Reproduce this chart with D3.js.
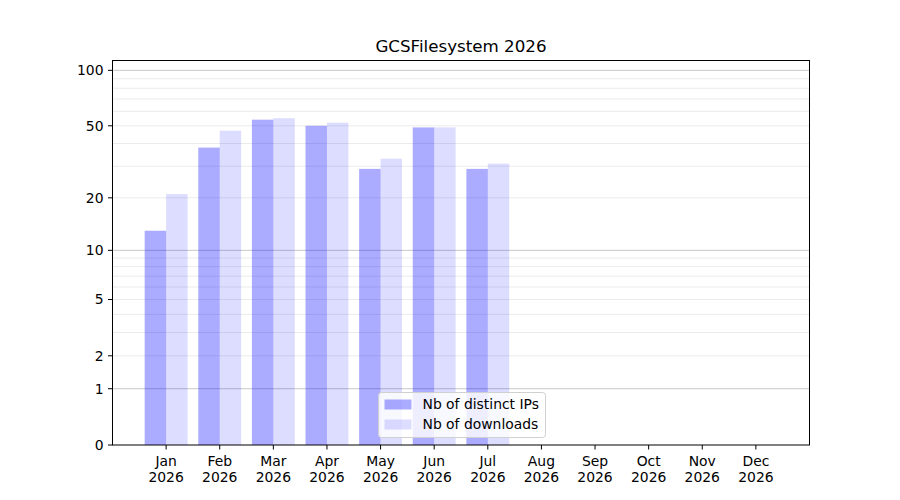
<!DOCTYPE html>
<html>
<head>
<meta charset="utf-8">
<script src="https://cdn.jsdelivr.net/npm/d3@7"></script>
<style>
  body { margin: 0; background: #fff; }
  text { font-family: "DejaVu Sans", sans-serif; }
</style>
</head>
<body>
<svg width="900" height="500"></svg>
<script>
const width = 900;
const height = 500;

// 数据
const months = ["Jan", "Feb", "Mar", "Apr", "May", "Jun", "Jul", "Aug", "Sep", "Oct", "Nov", "Dec"];
const year = "2026";
const distinctIPs = [13, 38, 54, 50, 29, 49, 29];
const downloads = [21, 47, 55, 52, 33, 49, 31];
const yTicks = [0, 1, 2, 5, 10, 20, 50, 100];
const yMinor = [2, 3, 4, 5, 6, 7, 8, 9, 20, 30, 40, 50, 60, 70, 80, 90];
const yMajor = [1, 10, 100];

const margin = {left: 112.5, right: 90, top: 60.5, bottom: 55};
const plotW = 697;
const plotH = 384.5;
const fs = 13.9;

const svg = d3.select("svg");

// x 轴：月份索引，两边各留一格
const x = d3.scaleLinear().domain([-1, 12]).range([margin.left, margin.left + plotW]);

// y 轴：log10(1+v) 变换（类似 symlog）
const t = v => Math.log10(1 + v);
const yMax = 113;
const yT = d3.scaleLinear().domain([0, t(yMax)]).range([margin.top + plotH, margin.top]);
const y = v => yT(t(v));

const barW = 0.4;

// 网格线
const grid = svg.append("g");
grid.selectAll("line.minor")
    .data(yMinor)
    .enter().append("line")
    .attr("x1", margin.left).attr("x2", margin.left + plotW)
    .attr("y1", d => y(d)).attr("y2", d => y(d))
    .attr("stroke", "#ebebeb").attr("stroke-width", 1);
grid.selectAll("line.major")
    .data(yMajor)
    .enter().append("line")
    .attr("x1", margin.left).attr("x2", margin.left + plotW)
    .attr("y1", d => y(d)).attr("y2", d => y(d))
    .attr("stroke", "#c8c8c8").attr("stroke-width", 1);

// 柱子
const bars = svg.append("g");
bars.selectAll("rect.ips")
    .data(distinctIPs)
    .enter().append("rect")
    .attr("x", (d, i) => x(i - barW))
    .attr("width", (d, i) => x(i) - x(i - barW))
    .attr("y", d => y(d))
    .attr("height", d => y(0) - y(d))
    .attr("fill", "blue").attr("fill-opacity", 0.33);
bars.selectAll("rect.dl")
    .data(downloads)
    .enter().append("rect")
    .attr("x", (d, i) => x(i))
    .attr("width", (d, i) => x(i + barW) - x(i))
    .attr("y", d => y(d))
    .attr("height", d => y(0) - y(d))
    .attr("fill", "blue").attr("fill-opacity", 0.135);

// 坐标框
svg.append("rect")
    .attr("x", margin.left).attr("y", margin.top)
    .attr("width", plotW).attr("height", plotH)
    .attr("fill", "none").attr("stroke", "#000").attr("stroke-width", 1);

// y 刻度
const yAxis = svg.append("g");
yTicks.forEach(v => {
    yAxis.append("line")
        .attr("x1", margin.left - 4.5).attr("x2", margin.left)
        .attr("y1", y(v)).attr("y2", y(v))
        .attr("stroke", "#000");
    yAxis.append("text")
        .attr("x", margin.left - 9).attr("y", y(v))
        .attr("dy", "0.35em")
        .attr("text-anchor", "end")
        .attr("font-size", fs)
        .text(v);
});

// x 刻度
const xAxis = svg.append("g");
months.forEach((m, i) => {
    const bottom = margin.top + plotH;
    xAxis.append("line")
        .attr("x1", x(i)).attr("x2", x(i))
        .attr("y1", bottom).attr("y2", bottom + 4.5)
        .attr("stroke", "#000");
    const lbl = xAxis.append("text")
        .attr("x", x(i)).attr("y", bottom + 21)
        .attr("text-anchor", "middle")
        .attr("font-size", fs);
    lbl.append("tspan").attr("x", x(i)).text(m);
    lbl.append("tspan").attr("x", x(i)).attr("dy", 16).text(year);
});

// 标题
svg.append("text")
    .attr("x", margin.left + plotW / 2).attr("y", 52)
    .attr("text-anchor", "middle")
    .attr("font-size", 16.7)
    .text("GCSFilesystem " + year);

// 图例
const legendItems = [
    {label: "Nb of distinct IPs", opacity: 0.33},
    {label: "Nb of downloads", opacity: 0.135}
];
const lg = svg.append("g").attr("transform", "translate(378.5,392.5)");
lg.append("rect")
    .attr("width", 167).attr("height", 45)
    .attr("rx", 3)
    .attr("fill", "#fff").attr("fill-opacity", 0.8)
    .attr("stroke", "#d0d0d0");
legendItems.forEach((d, i) => {
    lg.append("rect")
        .attr("x", 6).attr("y", 7 + i * 20)
        .attr("width", 27).attr("height", 10)
        .attr("fill", "blue").attr("fill-opacity", d.opacity);
    lg.append("text")
        .attr("x", 44).attr("y", 12 + i * 20)
        .attr("dy", "0.35em")
        .attr("font-size", fs)
        .text(d.label);
});
</script>
</body>
</html>
